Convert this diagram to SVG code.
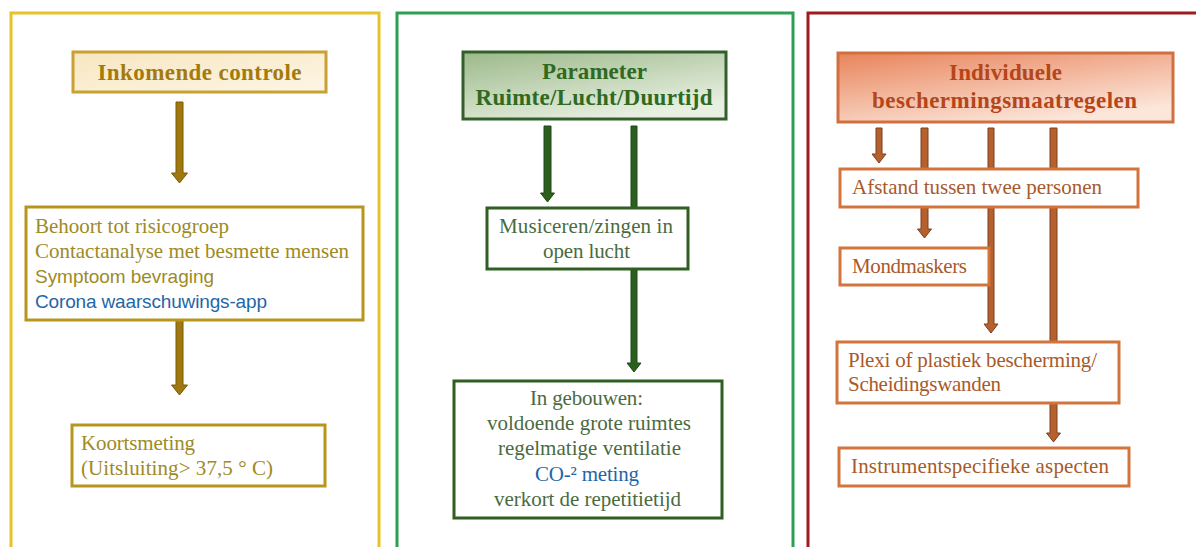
<svg xmlns="http://www.w3.org/2000/svg" width="1196" height="547" viewBox="0 0 1196 547">
<defs>
<linearGradient id="gGold" x1="0" y1="0" x2="1" y2="1"><stop offset="0" stop-color="#F7E6C0"/><stop offset="1" stop-color="#FDF6E6"/></linearGradient>
<linearGradient id="gGreen" x1="0" y1="0" x2="0.6" y2="1"><stop offset="0" stop-color="#9CB98A"/><stop offset="1" stop-color="#E9F0E2"/></linearGradient>
<linearGradient id="gOrange" x1="0" y1="0" x2="0.6" y2="1"><stop offset="0" stop-color="#E8845A"/><stop offset="1" stop-color="#FCE6DA"/></linearGradient>
</defs>
<style>
.serif{font-family:"Liberation Serif","Times New Roman",serif;font-size:21px}
.sans{font-family:"Liberation Sans",Arial,sans-serif;font-size:19px}
.title{font-family:"Liberation Serif","Times New Roman",serif;font-size:23px;font-weight:bold}
.box{fill:#fff;stroke-width:3}
.gold{fill:#9E8A26}.goldT{fill:#A57A0C}
.green{fill:#4A6B42}.greenT{fill:#2F6A1E}
.orange{fill:#A85A2A}.orangeT{fill:#B4461A}
.blue{fill:#1F66A8}
.aGold{fill:#A07810;stroke:#7A5A08;stroke-width:1}
.aGreen{fill:#2B5F1E;stroke:#1E4A14;stroke-width:1}
.aOrange{fill:#B5602D;stroke:#7A4020;stroke-width:1}
.panel{fill:none;stroke-width:3}
</style>
<rect width="1196" height="547" fill="#fff"/>
<g id="panels">
<rect class="panel" x="11" y="13" width="368" height="545" stroke="#E8C22A"/>
<rect class="panel" x="397" y="13" width="396" height="545" stroke="#2E9E52"/>
<rect class="panel" x="808" y="13" width="400" height="545" stroke="#9E1B20"/>
</g>
<g id="connectors">
<path class="aGold" d="M176,102 H183 V173 H187.5 L179.5,183 L171.5,173 H176 Z"/>
<path class="aGold" d="M176,315 H183 V385 H187.5 L179.5,395 L171.5,385 H176 Z"/>
<path class="aGreen" d="M544,126 H551 V193 H554.5 L547.5,202 L540.5,193 H544 Z"/>
<path class="aGreen" d="M631,126 H637 V363 H641 L634,372 L627,363 H631 Z"/>
<path class="aOrange" d="M876,128 H882 V154 H886 L879,163 L872,154 H876 Z"/>
<path class="aOrange" d="M921,128 H928 V229 H931.5 L924.5,238 L917.5,229 H921 Z"/>
<path class="aOrange" d="M988,128 H994 V324 H998 L991,333 L984,324 H988 Z"/>
<path class="aOrange" d="M1050,128 H1057 V433 H1060.5 L1053.5,442 L1046.5,433 H1050 Z"/>
</g>
<g id="n-inkomende">
<rect x="73" y="52" width="253" height="40" fill="url(#gGold)" stroke="#C9A032" stroke-width="3"/>
<text class="title goldT" x="199.5" y="80" text-anchor="middle" textLength="204" lengthAdjust="spacing">Inkomende controle</text>
</g>
<g id="n-risico">
<rect class="box" x="26" y="207" width="337" height="113" stroke="#B8961E"/>
<text class="serif gold" x="35" y="233" textLength="194" lengthAdjust="spacing">Behoort tot risicogroep</text>
<text class="serif gold" x="35" y="258" textLength="314" lengthAdjust="spacing">Contactanalyse  met besmette  mensen</text>
<text class="sans gold" x="35" y="283" textLength="179" lengthAdjust="spacing">Symptoom bevraging</text>
<text class="sans blue" x="35" y="308" textLength="232" lengthAdjust="spacing">Corona waarschuwings-app</text>
</g>
<g id="n-koorts">
<rect class="box" x="72" y="425" width="253" height="61" stroke="#B8961E"/>
<text class="serif gold" x="81" y="450" textLength="114" lengthAdjust="spacing">Koortsmeting</text>
<text class="serif gold" x="81" y="475" textLength="192" lengthAdjust="spacing">(Uitsluiting&gt; 37,5 ° C)</text>
</g>
<g id="n-parameter">
<rect x="463" y="52" width="263" height="67" fill="url(#gGreen)" stroke="#33602A" stroke-width="3"/>
<text class="title greenT" x="594.5" y="79" text-anchor="middle" textLength="105" lengthAdjust="spacing">Parameter</text>
<text class="title greenT" x="594" y="105" text-anchor="middle" textLength="237" lengthAdjust="spacing">Ruimte/Lucht/Duurtijd</text>
</g>
<g id="n-musiceren">
<rect class="box" x="487" y="208" width="201" height="61" stroke="#2F5F22"/>
<text class="serif green" x="586" y="233" text-anchor="middle" textLength="174" lengthAdjust="spacing">Musiceren/zingen  in</text>
<text class="serif green" x="586.5" y="258" text-anchor="middle" textLength="87" lengthAdjust="spacing">open lucht</text>
</g>
<g id="n-gebouwen">
<rect class="box" x="454" y="381" width="268" height="137" stroke="#2F5F22"/>
<text class="serif green" x="586.5" y="405" text-anchor="middle" textLength="113" lengthAdjust="spacing">In  gebouwen:</text>
<text class="serif green" x="589" y="430" text-anchor="middle" textLength="204" lengthAdjust="spacing">voldoende  grote ruimtes</text>
<text class="serif green" x="589.5" y="455" text-anchor="middle" textLength="183" lengthAdjust="spacing">regelmatige  ventilatie</text>
<text class="serif blue" x="587" y="481" text-anchor="middle" textLength="104" lengthAdjust="spacing">CO-² meting</text>
<text class="serif green" x="587.5" y="506" text-anchor="middle" textLength="187" lengthAdjust="spacing">verkort de repetitietijd</text>
</g>
<g id="n-individuele">
<rect x="838" y="53" width="335" height="69" fill="url(#gOrange)" stroke="#D07040" stroke-width="3"/>
<text class="title orangeT" x="1005.5" y="80" text-anchor="middle" textLength="113" lengthAdjust="spacing">Individuele</text>
<text class="title orangeT" x="1004.5" y="108" text-anchor="middle" textLength="265" lengthAdjust="spacing">beschermingsmaatregelen</text>
</g>
<g id="n-afstand">
<rect class="box" x="840" y="169" width="298" height="38" stroke="#D2743C"/>
<text class="serif orange" x="852" y="194" textLength="250" lengthAdjust="spacing">Afstand  tussen twee personen</text>
</g>
<g id="n-mondmaskers">
<rect class="box" x="840" y="248" width="149" height="37" stroke="#D2743C"/>
<text class="serif orange" x="852" y="273" textLength="115" lengthAdjust="spacing">Mondmaskers</text>
</g>
<g id="n-plexi">
<rect class="box" x="837" y="342" width="282" height="61" stroke="#D2743C"/>
<text class="serif orange" x="848" y="367" textLength="249" lengthAdjust="spacing">Plexi of plastiek  bescherming/</text>
<text class="serif orange" x="848" y="391" textLength="153" lengthAdjust="spacing">Scheidingswanden</text>
</g>
<g id="n-instrument">
<rect class="box" x="839" y="448" width="290" height="38" stroke="#D2743C"/>
<text class="serif orange" x="851" y="473" textLength="258" lengthAdjust="spacing">Instrumentspecifieke  aspecten</text>
</g>
</svg>
